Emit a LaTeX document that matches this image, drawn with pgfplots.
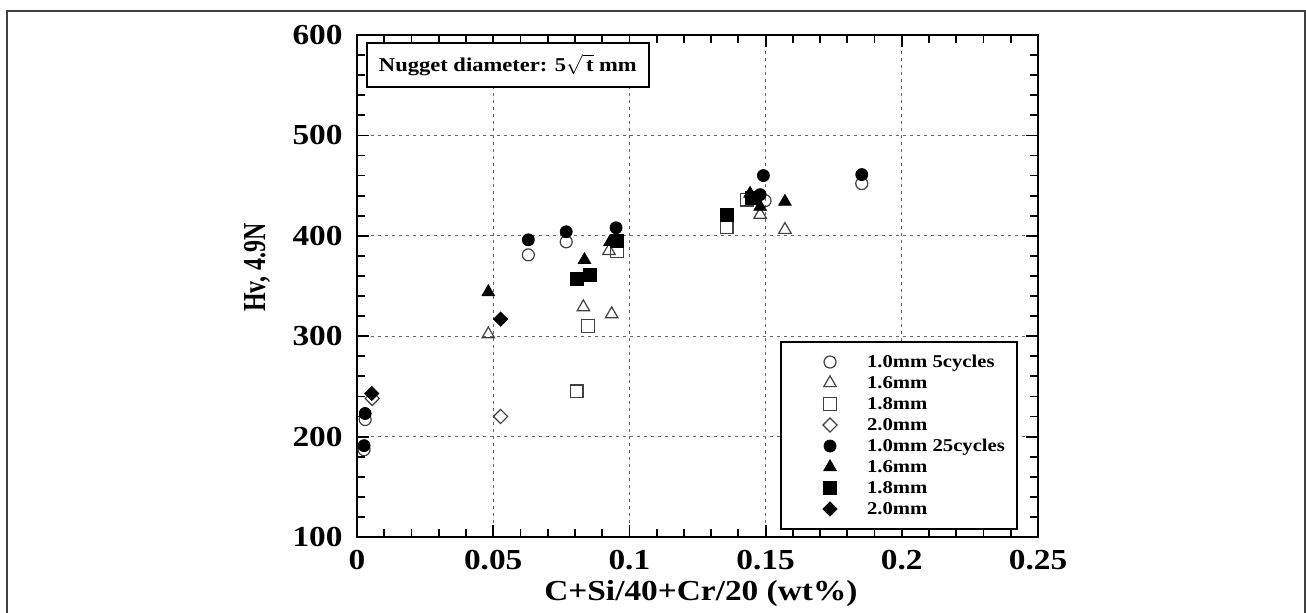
\documentclass[border=0pt]{standalone}
\usepackage{pgfplots}
\pgfplotsset{compat=1.18}
\usepackage{graphicx}
\usepackage{fontspec}
\setmainfont{Liberation Serif}[FakeStretch=1.15]
\newcommand{\tickfont}{\bfseries\fontsize{14.5}{14.5}\selectfont}
\newcommand{\legfont}{\bfseries\fontsize{9}{9}\selectfont}
\pgfplotsset{
  legimg/.style={legend image code/.code={\path[draw=none,fill=none] (0pt,0pt) -- (37pt,0pt); \draw[##1, draw=none] plot coordinates {(20.5pt,0pt)};}},
  om/.style={only marks, mark options={draw=black!75, fill=white, line width=0.6pt}, legimg},
  fm/.style={only marks, mark options={draw=black, fill=black, line width=0.4pt}, legimg},
  omd/.style={only marks, mark options={draw=black!75, fill=white, line width=0.6pt, rotate=45}, legimg},
  fmd/.style={only marks, mark options={draw=black, fill=black, line width=0.4pt, rotate=45}, legimg},
}
\begin{document}
\begin{tikzpicture}
\useasboundingbox (-178.5pt,-37.5pt) rectangle (474.5pt,268.5pt);
\begin{axis}[
  at={(0pt,0pt)}, anchor=south west,
  scale only axis, width=340.5pt, height=251pt,
  xmin=0, xmax=0.25, ymin=100, ymax=600,
  xtick={0,0.05,0.1,0.15,0.2,0.25},
  xticklabels={0,0.05,0.1,0.15,0.2,0.25},
  ytick={100,200,300,400,500,600},
  yticklabels={100,200,300,400,500,600},
  minor xtick={0.01,0.02,0.03,0.04,0.06,0.07,0.08,0.09,0.11,0.12,0.13,0.14,0.16,0.17,0.18,0.19,0.21,0.22,0.23,0.24},
  minor ytick={120,140,160,180,220,240,260,280,320,340,360,380,420,440,460,480,520,540,560,580},
  scaled x ticks=false, scaled y ticks=false,
  tick align=inside,
  xtick pos=both, ytick pos=both,
  major tick length=6pt, minor tick length=4pt,
  major tick style={draw=black, line width=0.9pt},
  minor tick style={draw=black, line width=0.9pt},
  axis line style={line width=1pt},
  xmajorgrids, ymajorgrids,
  major grid style={black!60, line width=0.6pt, dash pattern=on 1.5pt off 2pt},
  ticklabel style={font=\tickfont},
  yticklabel style={xshift=-3.7pt},
  xticklabel style={yshift=-3pt},
  /pgf/number format/assume math mode=true,
  xlabel={C+Si/40+Cr/20 (wt\%)},
  xlabel style={font=\tickfont, at={(axis description cs:0.505,-0.112)}, anchor=center},
  ylabel={\scalebox{0.65}[1]{Hv, 4.9N}},
  ylabel style={font=\bfseries\fontsize{16}{16}\selectfont, at={(axis description cs:-0.147,0.537)}, anchor=center},
  clip mode=individual,
  legend style={at={(axis description cs:0.9706,0.0139)}, anchor=south east, draw=black, line width=1pt, fill=white, font=\legfont, inner xsep=4pt, inner ysep=5.5pt, row sep=1.5pt, nodes={inner ysep=0pt, text height=7pt, text depth=2pt}},
  legend cell align=left,
]
\addplot[om, mark=o, mark size=3pt] coordinates {(0.0026,187) (0.003,217) (0.0629,381) (0.0768,394) (0.1498,435) (0.1853,452)};
\addlegendentry{1.0mm 5cycles}
\addplot[om, mark=triangle, mark size=3.6pt] coordinates {(0.0482,302) (0.0831,329) (0.0935,322) (0.0925,385) (0.148,421) (0.1571,406)};
\addlegendentry{1.6mm}
\addplot[om, mark=square, mark size=3.2pt] coordinates {(0.0806,245) (0.0849,310) (0.0955,385) (0.1357,409) (0.1431,436)};
\addlegendentry{1.8mm}
\addplot[omd, mark=square, mark size=2.5pt] coordinates {(0.0056,238) (0.0527,220)};
\addlegendentry{2.0mm}
\addplot[fm, mark=*, mark size=3pt] coordinates {(0.0026,191) (0.003,223) (0.0629,396) (0.0768,404) (0.0951,408) (0.148,441) (0.1492,460) (0.1853,461)};
\addlegendentry{1.0mm 25cycles}
\addplot[fm, mark=triangle*, mark size=3.6pt] coordinates {(0.0482,344) (0.0835,376) (0.0929,394) (0.1443,442) (0.148,429) (0.1571,434)};
\addlegendentry{1.6mm}
\addplot[fm, mark=square*, mark size=3.2pt] coordinates {(0.0806,357) (0.0855,361) (0.0953,395) (0.1357,421) (0.145,438)};
\addlegendentry{1.8mm}
\addplot[fmd, mark=square*, mark size=2.5pt] coordinates {(0.0054,243) (0.0527,317)};
\addlegendentry{2.0mm}
\node[draw=black, fill=white, line width=1pt, anchor=north west, inner xsep=6pt, inner ysep=0pt, minimum height=22pt, font=\bfseries\fontsize{9.8}{12}\selectfont] at (rel axis cs:0.0132,0.986) {Nugget diameter: 5$\sqrt{\mbox{\,t}}$ mm};
\end{axis}
\draw[line width=0.75pt, black!75] (-175pt,-40pt) -- (-175pt,263pt) -- (474pt,263pt) -- (474pt,-40pt);
\end{tikzpicture}
\end{document}
